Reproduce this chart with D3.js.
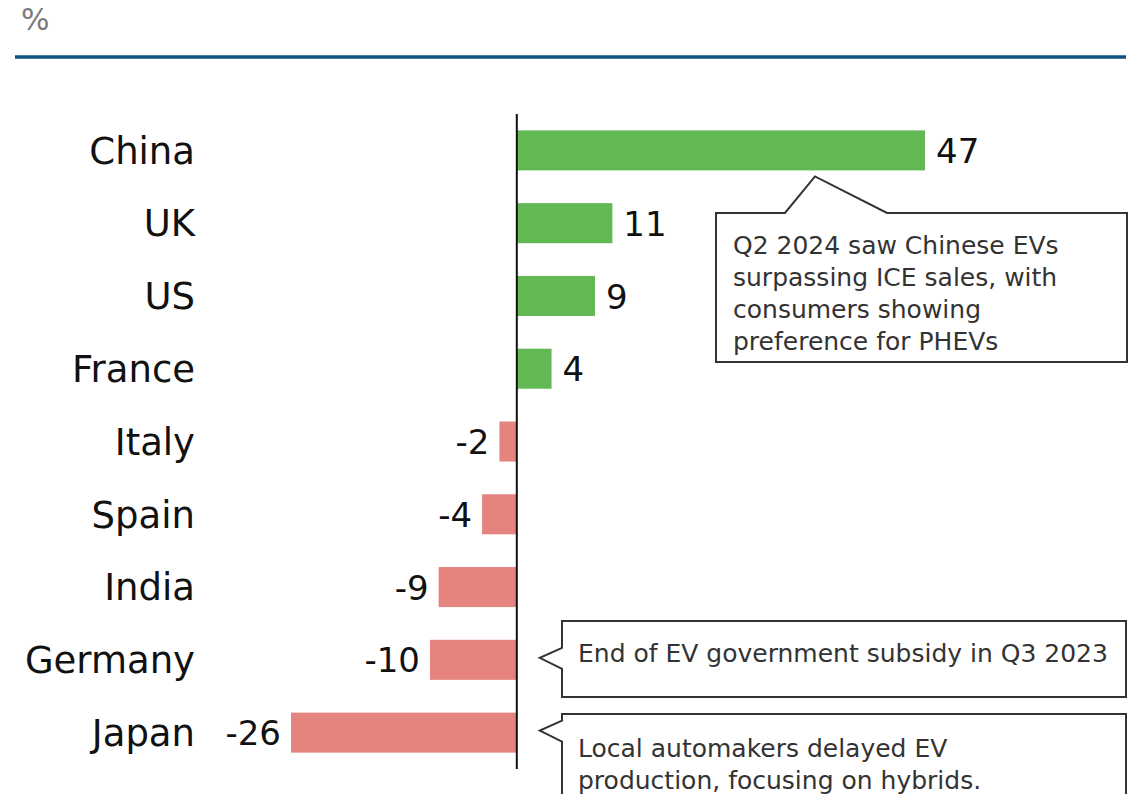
<!DOCTYPE html>
<html lang="en">
<head>
    <meta charset="UTF-8">
    <title>EV sales change by country</title>
    <script src="https://cdn.jsdelivr.net/npm/d3@7"></script>
    <style>
        body { margin: 0; background: #fff; }
        text { font-family: "DejaVu Sans", sans-serif; }
        .cat { font-size: 37px; fill: #111; }
        .val { font-size: 34px; fill: #111; }
        .note { font-size: 25px; fill: #333; }
    </style>
</head>
<body>
<script>
    const countries = ["China", "UK", "US", "France", "Italy", "Spain", "India", "Germany", "Japan"];
    const changes = [47, 11, 9, 4, -2, -4, -9, -10, -26];

    const notes = [
        { country: "China", lines: ["Q2 2024 saw Chinese EVs", "surpassing ICE sales, with", "consumers showing", "preference for PHEVs"] },
        { country: "Germany", lines: ["End of EV government subsidy in Q3 2023"] },
        { country: "Japan", lines: ["Local automakers delayed EV", "production, focusing on hybrids."] }
    ];

    const width = 1140, height = 794;
    const data = countries.map((c, i) => ({ country: c, value: changes[i] }));

    const x = d3.scaleLinear().domain([-26, 47]).range([291, 925]);
    const y = d3.scaleBand().domain(countries).range([114, 769])
        .paddingInner(0.45).paddingOuter(0.225);

    const svg = d3.select("body").append("svg")
        .attr("width", width)
        .attr("height", height);

    // unit + header rule
    svg.append("text")
        .attr("x", 21).attr("y", 30)
        .attr("font-size", 30)
        .attr("fill", "#7a7a7a")
        .text("%");

    svg.append("line")
        .attr("x1", 15).attr("x2", 1126)
        .attr("y1", 57).attr("y2", 57)
        .attr("stroke", "#0e5182")
        .attr("stroke-width", 3.5);

    // bars
    svg.selectAll("rect.bar")
        .data(data)
        .enter().append("rect")
        .attr("class", "bar")
        .attr("x", d => x(Math.min(0, d.value)))
        .attr("y", d => y(d.country))
        .attr("width", d => Math.abs(x(d.value) - x(0)))
        .attr("height", y.bandwidth())
        .attr("fill", d => d.value >= 0 ? "#62b853" : "#e5837f");

    // zero line
    svg.append("line")
        .attr("x1", x(0)).attr("x2", x(0))
        .attr("y1", 114).attr("y2", 769)
        .attr("stroke", "#111")
        .attr("stroke-width", 2);

    // country labels
    svg.selectAll("text.cat")
        .data(data)
        .enter().append("text")
        .attr("class", "cat")
        .attr("x", 195)
        .attr("y", d => y(d.country) + y.bandwidth() / 2)
        .attr("dy", "0.36em")
        .attr("text-anchor", "end")
        .text(d => d.country);

    // value labels
    svg.selectAll("text.val")
        .data(data)
        .enter().append("text")
        .attr("class", "val")
        .attr("x", d => d.value >= 0 ? x(d.value) + 11 : x(d.value) - 10)
        .attr("y", d => y(d.country) + y.bandwidth() / 2)
        .attr("dy", "0.37em")
        .attr("text-anchor", d => d.value >= 0 ? "start" : "end")
        .text(d => d.value);

    // callouts
    const boxes = [
        { x0: 716, x1: 1127, y0: 213, y1: 362, tx: 733, ty: 254 },
        { x0: 562, x1: 1126, y0: 621, y1: 697, tx: 578, ty: 662 },
        { x0: 562, x1: 1126, y0: 714, y1: 830, tx: 578, ty: 757 }
    ];

    notes.forEach((n, i) => {
        const b = boxes[i];
        const cy = y(n.country) + y.bandwidth() / 2;
        let path;
        if (i === 0) {
            // pointer goes up to the China bar
            const tipX = 815, tipY = y(n.country) + y.bandwidth() + 6;
            path = `M${b.x0},${b.y0} L785,${b.y0} L${tipX},${tipY} L887,${b.y0} L${b.x1},${b.y0}
                    L${b.x1},${b.y1} L${b.x0},${b.y1} Z`;
        } else {
            const tipX = x(0) + 23;
            path = `M${b.x0},${b.y0} L${b.x1},${b.y0} L${b.x1},${b.y1} L${b.x0},${b.y1}
                    L${b.x0},${cy + 9} L${tipX},${cy - 2} L${b.x0},${cy - 12} Z`;
        }
        svg.append("path")
            .attr("d", path)
            .attr("fill", "#fff")
            .attr("stroke", "#333")
            .attr("stroke-width", 2)
            .attr("stroke-linejoin", "miter");

        svg.append("g").selectAll("text")
            .data(n.lines)
            .enter().append("text")
            .attr("class", "note")
            .attr("x", b.tx)
            .attr("y", (d, j) => b.ty + j * 32)
            .text(d => d);
    });
</script>
</body>
</html>
